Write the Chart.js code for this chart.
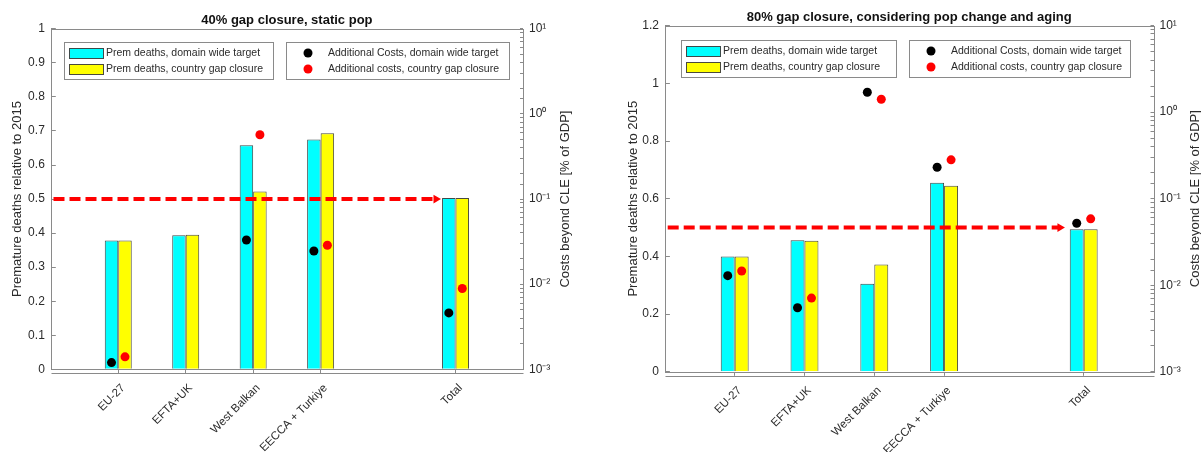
<!DOCTYPE html>
<html>
<head>
<meta charset="utf-8">
<script src="https://cdn.jsdelivr.net/npm/chart.js@4.4.1/dist/chart.umd.min.js"></script>
<style>
  html, body { margin: 0; padding: 0; background: #fff; }
  #wrap { position: relative; width: 1201px; height: 452px; overflow: hidden; }
  canvas { position: absolute; top: 0; }
  #left { left: 0; }
  #right { left: 600px; }
</style>
</head>
<body>
<div id="wrap">
  <canvas id="left" width="600" height="452"></canvas>
  <canvas id="right" width="601" height="452"></canvas>
</div>
<script>
const regions = ['EU-27', 'EFTA+UK', 'West Balkan', 'EECCA + Turkiye', 'Total'];
const regionPos = [1, 2, 3, 4, 6];   // slot 5 is left empty

// panel 1: 40% gap closure, static pop
const deathsDomain40 = [0.378, 0.394, 0.658, 0.675, 0.503];
const deathsCountry40 = [0.378, 0.395, 0.522, 0.693, 0.503];
const costsDomain40 = [0.0012, null, 0.033, 0.0245, 0.0046];
const costsCountry40 = [0.0014, null, 0.57, 0.0287, 0.0089];

// panel 2: 80% gap closure, pop change and aging
const deathsDomain80 = [0.400, 0.456, 0.305, 0.655, 0.494];
const deathsCountry80 = [0.400, 0.454, 0.372, 0.645, 0.494];
const costsDomain80 = [0.0129, 0.0055, 1.70, 0.231, 0.0521];
const costsCountry80 = [0.0146, 0.0071, 1.41, 0.281, 0.0585];

const targetLevel = 0.5;
const arrowX40 = [0.04, 5.71];
const arrowX80 = [0.04, 5.66];

const logLabels = { '-3': '10⁻³', '-2': '10⁻²', '-1': '10⁻¹', '0': '10⁰', '1': '10¹' };

const FONT = '"Liberation Sans", Arial, Helvetica, sans-serif';
const TXT = '#2b2b2b';
const AXIS = '#8a8a8a';
const BAR_HALF = 0.1;   // half of one bar, in slot units (categoryPercentage 0.4 / 2 bars)

Chart.defaults.font.family = FONT;
Chart.defaults.color = TXT;

const decor = {
  id: 'decor',
  afterDraw(chart, args, o) {
    const ctx = chart.ctx, a = chart.chartArea;
    const ds = chart.data.datasets;
    ctx.save();
    // axes box + second base line
    ctx.strokeStyle = AXIS;
    ctx.lineWidth = 1;
    const L = Math.round(a.left) + 0.5, R = Math.round(a.right) + 0.5;
    const T = Math.round(a.top) + 0.5, B = Math.round(a.bottom) + 0.5;
    ctx.strokeRect(L, T, R - L, B - T);
    ctx.beginPath();
    ctx.moveTo(L, B + 4);
    ctx.lineTo(R, B + 4);
    ctx.stroke();

    // title
    ctx.fillStyle = '#111';
    ctx.font = 'bold 13px ' + FONT;
    ctx.textAlign = 'center';
    ctx.textBaseline = 'alphabetic';
    ctx.fillText(o.title, (a.left + a.right) / 2, a.top - 5);

    // right axis title, reading upwards
    ctx.save();
    ctx.translate(a.right + o.rightTitleGap, (a.top + a.bottom) / 2);
    ctx.rotate(-Math.PI / 2);
    ctx.font = '13px ' + FONT;
    ctx.fillStyle = TXT;
    ctx.textBaseline = 'middle';
    ctx.fillText(o.rightTitle, 0, 0);
    ctx.restore();

    // the two legend boxes
    ctx.font = '10.5px ' + FONT;
    ctx.textAlign = 'left';
    ctx.textBaseline = 'middle';
    const top = Math.round(a.top + o.legendTop);
    const rows = [top + 11, top + 27];
    const drawBox = (x0, x1) => {
      ctx.fillStyle = '#fff';
      ctx.fillRect(x0, top, x1 - x0, o.legendHeight);
      ctx.strokeStyle = AXIS;
      ctx.strokeRect(x0 + 0.5, top + 0.5, x1 - x0, o.legendHeight);
    };
    const b1 = o.barBox.map(v => Math.round(a.left + v));
    const b2 = o.markerBox.map(v => Math.round(a.left + v));
    drawBox(b1[0], b1[1]);
    for (let i = 0; i < 2; i++) {
      const d = ds[i];
      ctx.fillStyle = d.backgroundColor;
      ctx.fillRect(b1[0] + 5, rows[i] - 5, 34, 10);
      ctx.strokeStyle = d.borderColor;
      ctx.strokeRect(b1[0] + 5.5, rows[i] - 4.5, 34, 10);
      ctx.fillStyle = TXT;
      ctx.fillText(d.label, b1[0] + 42, rows[i]);
    }
    drawBox(b2[0], b2[1]);
    for (let i = 0; i < 2; i++) {
      const d = ds[i + 2];
      ctx.beginPath();
      ctx.arc(b2[0] + 22, rows[i], 4.5, 0, Math.PI * 2);
      ctx.fillStyle = d.backgroundColor;
      ctx.fill();
      ctx.fillStyle = TXT;
      ctx.fillText(d.label, b2[0] + 42, rows[i]);
    }
    ctx.restore();
  }
};

function points(costs, shift) {
  return regionPos.map((p, i) => ({ x: p + shift, y: costs[i] })).filter(pt => pt.y !== null);
}

function makeChart(id, p) {
  return new Chart(id, {
    type: 'bar',
    data: {
      datasets: [
        {
          label: 'Prem deaths, domain wide target',
          data: regionPos.map((x, i) => ({ x: x, y: p.domain[i] })),
          backgroundColor: '#00ffff', borderColor: '#3d4a4a', borderWidth: 1,
          yAxisID: 'y', order: 2
        },
        {
          label: 'Prem deaths, country gap closure',
          data: regionPos.map((x, i) => ({ x: x, y: p.country[i] })),
          backgroundColor: '#ffff00', borderColor: '#4a4a3d', borderWidth: 1,
          yAxisID: 'y', order: 2
        },
        {
          type: 'line', showLine: false,
          label: 'Additional Costs, domain wide target',
          data: points(p.costDomain, -BAR_HALF),
          backgroundColor: '#000', pointBackgroundColor: '#000',
          pointRadius: 4.5, pointBorderWidth: 0,
          yAxisID: 'y1', order: 0
        },
        {
          type: 'line', showLine: false,
          label: 'Additional costs, country gap closure',
          data: points(p.costCountry, BAR_HALF),
          backgroundColor: '#ff0000', pointBackgroundColor: '#ff0000',
          pointRadius: 4.5, pointBorderWidth: 0,
          yAxisID: 'y1', order: 0
        },
        {
          type: 'line',
          label: 'target',
          data: p.arrowX.map(x => ({ x: x, y: targetLevel })),
          borderColor: '#ff0000', borderWidth: 4, borderDash: [11, 5],
          pointRadius: [0, 5], pointStyle: 'triangle', pointRotation: 90,
          pointBackgroundColor: '#ff0000', pointBorderWidth: 0,
          yAxisID: 'y', order: 1
        }
      ]
    },
    options: {
      responsive: false,
      animation: false,
      layout: { padding: { left: p.padLeft, top: p.padTop, right: 0, bottom: 0 } },
      datasets: { bar: { categoryPercentage: 0.4, barPercentage: 1.0 } },
      plugins: {
        legend: { display: false },
        tooltip: { enabled: false },
        decor: {
          title: p.title,
          rightTitle: 'Costs beyond CLE [% of GDP]',
          rightTitleGap: 42,
          legendTop: p.legendTop, legendHeight: 37,
          barBox: p.barBox, markerBox: p.markerBox
        }
      },
      scales: {
        x: {
          type: 'linear', min: 0, max: 7, offset: false,
          afterBuildTicks: s => { s.ticks = regionPos.map(v => ({ value: v })); },
          afterFit: s => { s.height = p.xHeight; },
          ticks: {
            autoSkip: false, minRotation: 45, maxRotation: 45,
            font: { size: 11.5 }, color: TXT, padding: 8, labelOffset: 5,
            callback: v => regions[regionPos.indexOf(v)]
          },
          grid: { offset: false, drawOnChartArea: false, tickLength: 4, color: AXIS },
          border: { display: false }
        },
        y: {
          type: 'linear', position: 'left', min: 0, max: p.yMax,
          afterFit: s => { s.width = p.yWidth; },
          ticks: {
            stepSize: p.yStep, font: { size: 12 }, color: TXT, padding: 11,
            callback: v => String(+v.toFixed(2))
          },
          grid: { drawOnChartArea: false, tickLength: -5, color: AXIS },
          border: { display: false },
          title: { display: true, text: 'Premature deaths relative to 2015', font: { size: 13 }, color: TXT, padding: 0 }
        },
        y1: {
          type: 'logarithmic', position: 'right', min: 0.001, max: 10,
          afterFit: s => { s.width = p.y1Width; },
          ticks: {
            autoSkip: false, font: { size: 12 }, color: TXT, padding: 9,
            callback: v => {
              const l = Math.log10(v), r = Math.round(l);
              return Math.abs(l - r) < 1e-6 ? logLabels[r] : '';
            }
          },
          grid: { drawOnChartArea: false, tickLength: -3, color: AXIS },
          border: { display: false }
        }
      }
    },
    plugins: [decor]
  });
}

makeChart('left', {
  title: '40% gap closure, static pop',
  domain: deathsDomain40, country: deathsCountry40,
  costDomain: costsDomain40, costCountry: costsCountry40,
  arrowX: arrowX40,
  yMax: 1, yStep: 0.1,
  padLeft: 10, padTop: 28.8, yWidth: 40.8, y1Width: 77, xHeight: 82.7,
  legendTop: 13.6, barBox: [13.4, 221.8], markerBox: [235.2, 457.8]
});

makeChart('right', {
  title: '80% gap closure, considering pop change and aging',
  domain: deathsDomain80, country: deathsCountry80,
  costDomain: costsDomain80, costCountry: costsCountry80,
  arrowX: arrowX80,
  yMax: 1.2, yStep: 0.2,
  padLeft: 26, padTop: 25.6, yWidth: 38.9, y1Width: 47.5, xHeight: 80.2,
  legendTop: 14, barBox: [16, 231], markerBox: [244, 465]
});
</script>
</body>
</html>
